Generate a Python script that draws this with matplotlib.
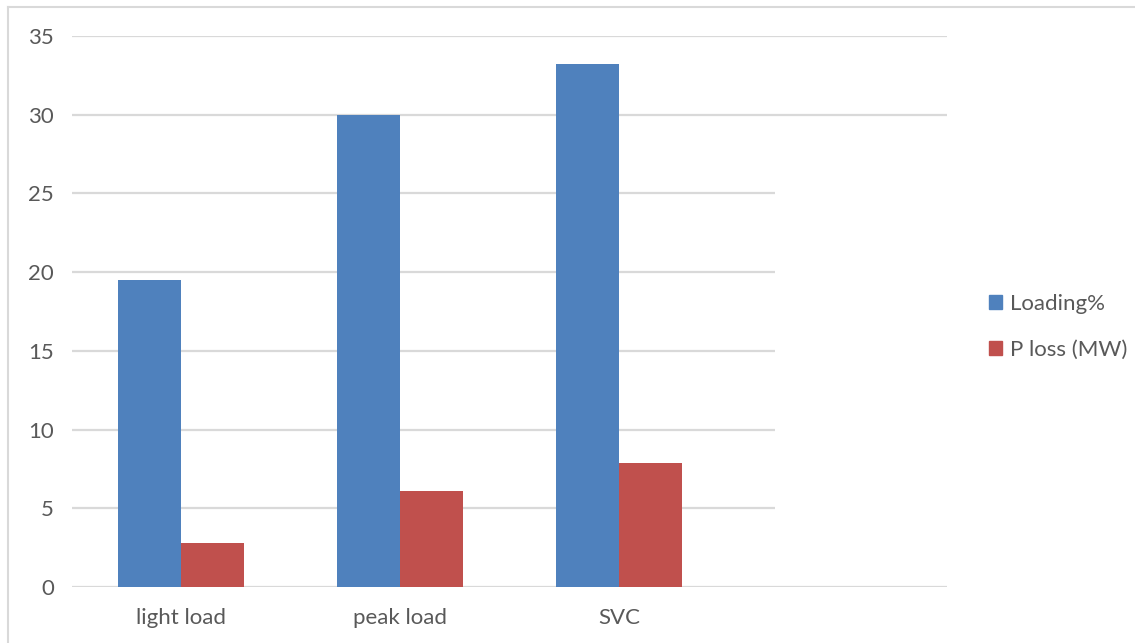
import matplotlib
matplotlib.use("Agg")
import matplotlib.pyplot as plt
from matplotlib.patches import Rectangle
from matplotlib.lines import Line2D
import numpy as np

categories = ["light load", "peak load", "SVC", ""]
loading_pct = [19.5, 30.0, 33.2, None]
p_loss_mw = [2.8, 6.1, 7.9, None]
series_names = ["Loading%", "P loss (MW)"]
yticks = [0, 5, 10, 15, 20, 25, 30, 35]

plt.rcParams["font.family"] = ["Lato", "DejaVu Sans"]

W, H = 1135, 643
fig = plt.figure(figsize=(W / 100, H / 100), dpi=100)
ax = fig.add_axes([72 / W, 1 - 587 / H, (947 - 72) / W, (587 - 36) / H])

blue = "#4f81bd"
red = "#c0504d"
grid_c = "#d9d9d9"
text_c = "#595959"

x = np.arange(len(categories))
bw = 0.288
vals_a = [np.nan if v is None else v for v in loading_pct]
vals_b = [np.nan if v is None else v for v in p_loss_mw]
ax.bar(x - bw / 2, vals_a, width=bw, color=blue, zorder=3, label=series_names[0])
ax.bar(x + bw / 2, vals_b, width=bw, color=red, zorder=3, label=series_names[1])

ax.set_xlim(-0.5, len(categories) - 0.5)
ax.set_ylim(0, 35)
ax.set_yticks(yticks)
ax.set_xticks(x)
ax.set_xticklabels(categories)
ax.tick_params(axis="both", length=0, labelsize=16, colors=text_c)
ax.tick_params(axis="y", pad=13)
ax.tick_params(axis="x", pad=15)
ax.set_axisbelow(True)
ax.grid(axis="y", color=grid_c, linewidth=1.6, zorder=0)
for s in ax.spines.values():
    s.set_visible(False)

# white legend area masking the gridlines on the right
ax.add_patch(Rectangle(((775 - 72) / (947 - 72), (587 - 512) / (587 - 36)),
                       1.0, (512 - 150) / (587 - 36),
                       transform=ax.transAxes, facecolor="white",
                       edgecolor="none", zorder=1, clip_on=False))

handles = [Rectangle((0, 0), 1, 1, color=blue), Rectangle((0, 0), 1, 1, color=red)]
fig.legend(handles, series_names, loc="center left",
           bbox_to_anchor=(973 / W, 1 - 327 / H), frameon=False,
           fontsize=16, labelcolor=text_c, handlelength=0.6,
           handleheight=0.6, handletextpad=0.35, labelspacing=1.15,
           borderpad=0.2)

# chart-area border (top and left edges)
fig.add_artist(Line2D([8 / W, 8 / W], [0, 1 - 7 / H], transform=fig.transFigure,
                      color="#d9d9d9", linewidth=1.5))
fig.add_artist(Line2D([8 / W, 1], [1 - 7 / H, 1 - 7 / H], transform=fig.transFigure,
                      color="#d9d9d9", linewidth=1.5))

fig.savefig("out.png", dpi=100, facecolor="white")
